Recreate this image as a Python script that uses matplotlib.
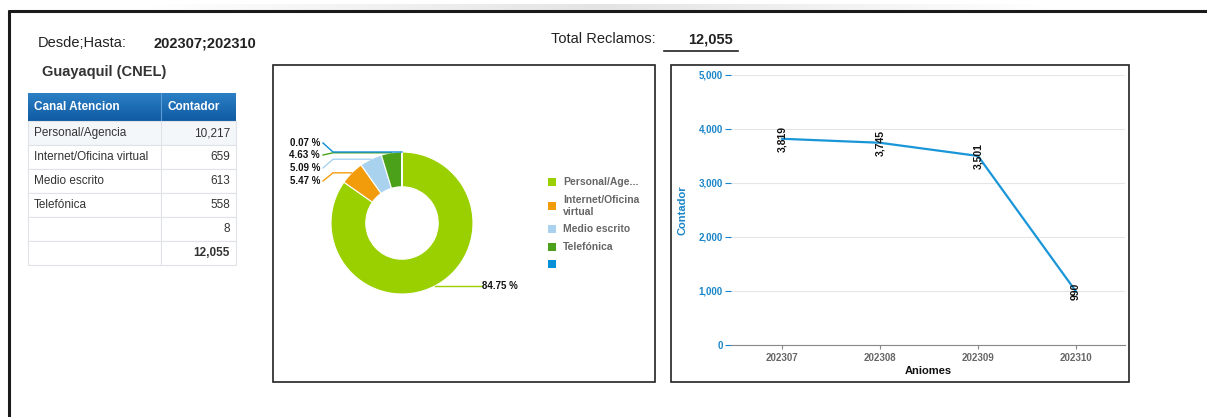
import numpy as np
import matplotlib
matplotlib.use("Agg")
import matplotlib.pyplot as plt
from matplotlib.patches import Rectangle
from matplotlib.colors import LinearSegmentedColormap

plt.rcParams['font.family'] = ['Liberation Sans', 'DejaVu Sans']

# ---- data ----
desde_hasta = "202307;202310"
region = "Guayaquil (CNEL)"
canales = ["Personal/Agencia", "Internet/Oficina virtual", "Medio escrito", "Telefónica", ""]
contador = [10217, 659, 613, 558, 8]
legend_labels = ["Personal/Age...", "Internet/Oficina\nvirtual", "Medio escrito", "Telefónica", ""]
slice_colors = ["#9bd000", "#f29c0c", "#a8d2ee", "#4ba21a", "#0a8fd6"]
meses = ["202307", "202308", "202309", "202310"]
reclamos_mes = [3819, 3745, 3501, 990]
total = sum(contador)

W, H = 1207, 417
fig = plt.figure(figsize=(W / 100, H / 100), dpi=100)

def rect(l, t, r, b):
    return [l / W, 1 - b / H, (r - l) / W, (b - t) / H]

bg = fig.add_axes([0, 0, 1, 1])
bg.set_xlim(0, W)
bg.set_ylim(H, 0)
bg.axis("off")

# faint shadow above the frame
shade = LinearSegmentedColormap.from_list("sh", ["#ffffff", "#e4e4e4", "#ffffff"])
bg.imshow(np.linspace(0, 1, 200).reshape(1, -1), cmap=shade, aspect="auto",
          extent=(150, 1050, 10, 4), zorder=0)
# outer frame
bg.plot([8, W], [10.5, 10.5], color="#1a1a1a", lw=2.2, solid_capstyle="butt")
bg.plot([8.5, 8.5], [10, H], color="#1a1a1a", lw=2.2, solid_capstyle="butt")

# header texts
bg.text(38, 43, "Desde;Hasta:", fontsize=10.5, color="#222", va="center")
bg.text(153, 43, desde_hasta, fontsize=10.5, fontweight="bold", color="#222", va="center")
bg.text(42, 72, region, fontsize=10.5, fontweight="bold", color="#333", va="center")
bg.text(551, 39, "Total Reclamos:", fontsize=10.5, color="#222", va="center")
bg.text(733, 39, f"{total:,}", fontsize=10.5, fontweight="bold", color="#222", va="center", ha="right")
bg.plot([664, 738], [50.5, 50.5], color="#222", lw=1.2)

# table
tl, tm, tr = 28, 161, 236
ht, hb = 93, 121
rh = 24
hdr = LinearSegmentedColormap.from_list("hdr", ["#2c80c6", "#0f5aa3"])
bg.imshow(np.linspace(0, 1, 50).reshape(-1, 1), cmap=hdr, aspect="auto",
          extent=(tl, tr, hb, ht), zorder=1)
bg.plot([tm, tm], [ht, hb], color="#5f9bd0", lw=0.8, zorder=2)
bg.text(34, 107, "Canal Atencion", fontsize=8.5, fontweight="bold", color="white", va="center", zorder=3)
bg.text(168, 107, "Contador", fontsize=8.5, fontweight="bold", color="white", va="center", zorder=3)
rows = list(zip(canales, contador)) + [("", total)]
for i, (name, val) in enumerate(rows):
    top = hb + i * rh
    fc = "#f4f7fa" if i == 0 else "white"
    bg.add_patch(Rectangle((tl, top), tr - tl, rh, facecolor=fc, edgecolor="#dfe3e8", lw=0.8))
    bg.plot([tm, tm], [top, top + rh], color="#dfe3e8", lw=0.8)
    bg.text(34, top + rh / 2, name, fontsize=8.5, color="#333", va="center")
    bg.text(230, top + rh / 2, f"{val:,}", fontsize=8.5, color="#333", va="center", ha="right",
            fontweight="bold" if i == len(rows) - 1 else "normal")

# chart boxes
bg.add_patch(Rectangle((273, 65), 382, 317, facecolor="none", edgecolor="#222", lw=1.2))
bg.add_patch(Rectangle((671, 65), 458, 317, facecolor="none", edgecolor="#222", lw=1.2))

# ---- donut ----
cx, cy, R = 402, 223, 71
pax = fig.add_axes(rect(cx - R, cy - R, cx + R, cy + R))
wedges, _ = pax.pie(contador, colors=slice_colors, startangle=90, counterclock=False,
                    wedgeprops=dict(width=0.49, edgecolor="white", linewidth=0.8))
pax.set_xlim(-1, 1)
pax.set_ylim(-1, 1)
pax.set_aspect("equal")
pax.axis("off")

def px2d(x, y):
    return (x - cx) / R, (cy - y) / R

pct = [v / total * 100 for v in contador]
left_label_y = {4: 143, 3: 155, 2: 168, 1: 181}
for i, w in enumerate(wedges):
    ang = np.deg2rad((w.theta1 + w.theta2) / 2)
    ax_, ay_ = np.cos(ang), np.sin(ang)
    if i == 0:
        lx, ly = px2d(482, 287)
        pax.plot([ax_, lx], [ay_, ay_], color=slice_colors[i], lw=1, clip_on=False)
        pax.text(lx, ay_, f"{pct[i]:.2f} %", fontsize=7, fontweight="bold", color="#111",
                 va="center", ha="left", clip_on=False)
    else:
        ly = left_label_y[i]
        ex, _ = px2d(333, 0)
        tx, ty = px2d(323, ly)
        pax.plot([ax_, ex, tx], [ay_, ay_, ty], color=slice_colors[i], lw=1, clip_on=False)
        pax.text(px2d(320, 0)[0], ty, f"{pct[i]:.2f} %", fontsize=7, fontweight="bold",
                 color="#111", va="center", ha="right", clip_on=False)

# legend
leg_y = [182, 206, 229, 246.5, 264]
for lab, col, y in zip(legend_labels, slice_colors, leg_y):
    bg.add_patch(Rectangle((548, y - 4), 8, 8, facecolor=col, lw=0))
    if "\n" in lab:
        l1, l2 = lab.split("\n")
        bg.text(563, y - 6, l1, fontsize=7.5, fontweight="bold", color="#666", va="center")
        bg.text(563, y + 6, l2, fontsize=7.5, fontweight="bold", color="#666", va="center")
    else:
        bg.text(563, y, lab, fontsize=7.5, fontweight="bold", color="#666", va="center")

# ---- line chart ----
lax = fig.add_axes(rect(731, 75, 1125, 345))
xs = np.arange(len(meses))
lax.plot(xs, reclamos_mes, color="#1996d8", lw=1.6)
lax.set_xlim(-0.52, 3.5)
lax.set_ylim(0, 5000)
lax.set_yticks(np.arange(0, 5001, 1000))
lax.set_yticklabels([f"{v:,}" for v in range(0, 5001, 1000)])
lax.set_xticks(xs)
lax.set_xticklabels(meses)
lax.grid(axis="y", color="#e6e6e6", lw=0.8)
lax.set_axisbelow(True)
for s in ["top", "right", "left"]:
    lax.spines[s].set_visible(False)
lax.spines["bottom"].set_color("#888")
lax.tick_params(axis="y", colors="#1a85c8", labelsize=7, length=4, width=0.8, pad=2)
lax.tick_params(axis="x", colors="#888", labelsize=7, length=3, width=0.8, pad=3)
for t in lax.get_yticklabels():
    t.set_fontweight("bold")
for t in lax.get_xticklabels():
    t.set_fontweight("bold")
    t.set_color("#666")
lax.set_xlabel("Aniomes", fontsize=8, fontweight="bold", color="#111", labelpad=2)
lax.set_ylabel("Contador", fontsize=8, fontweight="bold", color="#1a85c8", labelpad=8)
for x, v in zip(xs, reclamos_mes):
    lax.text(x, v, f"{v:,}", rotation=90, fontsize=7.5, fontweight="bold", color="#111",
             ha="center", va="center")

fig.savefig("out.png", dpi=100)
